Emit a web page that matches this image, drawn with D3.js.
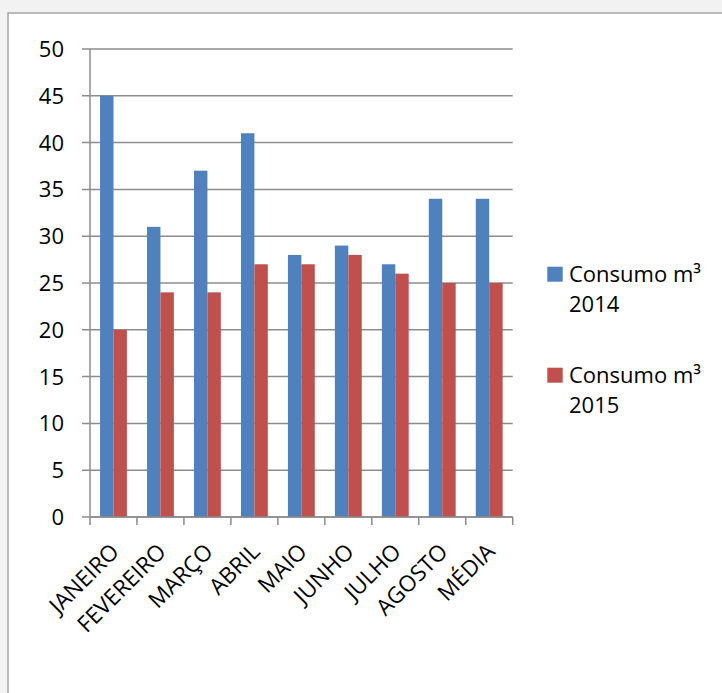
<!DOCTYPE html>
<html>
<head>
<meta charset="utf-8">
<script src="https://cdn.jsdelivr.net/npm/d3@7"></script>
<style>
  html, body { margin: 0; padding: 0; background: #f2f2f2; }
  svg { display: block; font-family: "Open Sans", sans-serif; }
</style>
</head>
<body>
<div id="chart"></div>
<script>
// data
const months = ["JANEIRO", "FEVEREIRO", "MARÇO", "ABRIL", "MAIO", "JUNHO", "JULHO", "AGOSTO", "MÉDIA"];
const consumo2014 = [45, 31, 37, 41, 28, 29, 27, 34, 34];
const consumo2015 = [20, 24, 24, 27, 27, 28, 26, 25, 25];
const yTicks = [0, 5, 10, 15, 20, 25, 30, 35, 40, 45, 50];
const seriesNames = [["Consumo m³", "2014"], ["Consumo m³", "2015"]];
const colors = ["#4f81bd", "#c0504d"];

const width = 722, height = 693;
const plot = { left: 90, right: 512.7, top: 49, bottom: 517 };

const svg = d3.select("#chart")
  .append("svg")
  .attr("width", width)
  .attr("height", height);

// chart frame
svg.append("rect")
  .attr("x", 8).attr("y", 13)
  .attr("width", 760).attr("height", 720)
  .attr("fill", "#fff")
  .attr("stroke", "#a6a6a6")
  .attr("stroke-width", 1.5);

// scales
const x = d3.scaleBand()
  .domain(months)
  .range([plot.left, plot.right])
  .padding(0);

const xSeries = d3.scaleBand()
  .domain([0, 1])
  .range([0, x.bandwidth()])
  .paddingInner(0)
  .paddingOuter(0.75);

const y = d3.scaleLinear()
  .domain([0, 50])
  .range([plot.bottom, plot.top]);

// gridlines + y labels
svg.append("g")
  .selectAll("line")
  .data(yTicks)
  .enter()
  .append("line")
  .attr("x1", plot.left - 8)
  .attr("x2", plot.right)
  .attr("y1", d => y(d))
  .attr("y2", d => y(d))
  .attr("stroke", "#8c8c8c")
  .attr("stroke-width", 1.5);

svg.append("g")
  .selectAll("text")
  .data(yTicks)
  .enter()
  .append("text")
  .attr("x", plot.left - 26)
  .attr("y", d => y(d))
  .attr("dy", "0.36em")
  .attr("text-anchor", "end")
  .attr("font-size", 22)
  .attr("fill", "#000")
  .text(d => d);

// bars
const series = [consumo2014, consumo2015];
series.forEach(function (values, si) {
  svg.append("g")
    .selectAll("rect")
    .data(values)
    .enter()
    .append("rect")
    .attr("x", (d, i) => x(months[i]) + xSeries(si))
    .attr("y", d => y(d))
    .attr("width", xSeries.bandwidth())
    .attr("height", d => y(0) - y(d))
    .attr("fill", colors[si]);
});

// y axis line
svg.append("line")
  .attr("x1", plot.left).attr("x2", plot.left)
  .attr("y1", plot.top).attr("y2", plot.bottom)
  .attr("stroke", "#8c8c8c")
  .attr("stroke-width", 1.5);

// x axis
const xAxis = svg.append("g");
xAxis.append("line")
  .attr("x1", plot.left).attr("x2", plot.right)
  .attr("y1", plot.bottom).attr("y2", plot.bottom)
  .attr("stroke", "#8c8c8c")
  .attr("stroke-width", 1.5);

const tickPos = months.map(m => x(m)).concat([plot.right]);
xAxis.selectAll(".tick")
  .data(tickPos)
  .enter()
  .append("line")
  .attr("x1", d => d).attr("x2", d => d)
  .attr("y1", plot.bottom).attr("y2", plot.bottom + 8)
  .attr("stroke", "#8c8c8c")
  .attr("stroke-width", 1.5);

xAxis.selectAll("text")
  .data(months)
  .enter()
  .append("text")
  .attr("transform", d => `translate(${x(d) + x.bandwidth() / 2 + 7}, ${plot.bottom + 36}) rotate(-45)`)
  .attr("text-anchor", "end")
  .attr("font-size", 22.5)
  .attr("fill", "#000")
  .text(d => d);

// legend
const legend = svg.append("g");
seriesNames.forEach(function (lines, i) {
  const top = 266.7 + i * 101;
  legend.append("rect")
    .attr("x", 547.3).attr("y", top)
    .attr("width", 15.4).attr("height", 15)
    .attr("fill", colors[i]);
  lines.forEach(function (t, j) {
    legend.append("text")
      .attr("x", 569)
      .attr("y", top + 15.5 + j * 30)
      .attr("font-size", 22)
      .attr("fill", "#000")
      .text(t);
  });
});
</script>
</body>
</html>
